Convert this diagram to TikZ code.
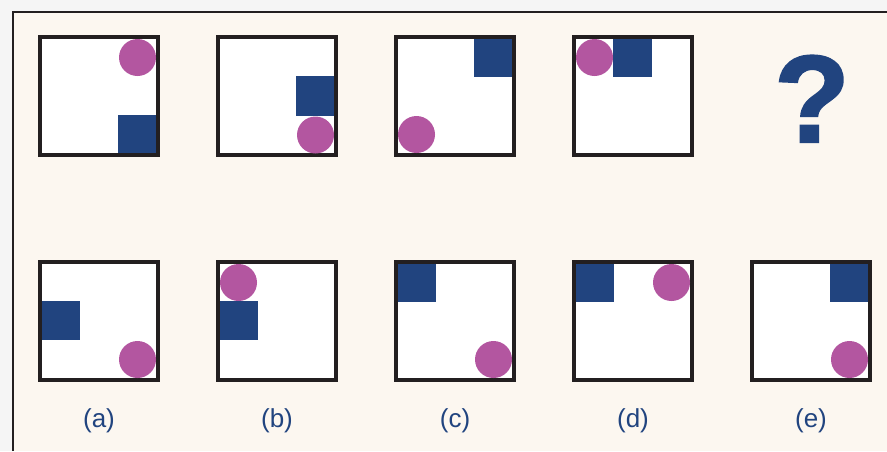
\documentclass[tikz,border=0pt]{standalone}
\usepackage{fontspec}
\setmainfont{Liberation Sans}
\newfontfamily\qfont{Liberation Sans Bold}[FakeBold=1.6]
\definecolor{navy}{HTML}{21447F}
\definecolor{plum}{HTML}{B356A0}
\definecolor{cream}{HTML}{FCF7F0}
\definecolor{ink}{HTML}{231F20}
\definecolor{outside}{HTML}{F5F5F5}
\tikzset{
  panelbox/.style={draw=ink, line width=4pt, fill=white},
  bluesq/.style={fill=navy},
  pinkdot/.style={fill=plum},
  frameline/.style={draw=ink, line width=2pt},
  caption/.style={text=navy, font=\fontsize{26}{30}\selectfont, inner sep=0pt, anchor=base},
  qmark/.style={text=navy, font=\qfont\fontsize{124}{140}\selectfont, inner sep=0pt, anchor=base}
}
\begin{document}
\begin{tikzpicture}[x=1pt,y=-1pt]
\useasboundingbox (0,0) rectangle (887,451);
\fill[outside] (0,0) rectangle (887,451);
\fill[cream] (12.5,11.5) rectangle (887,451);
\draw[frameline] (12.5,451) -- (12.5,11.5) -- (887,11.5);
% top row
\begin{scope}[shift={(38,35)}]
  \draw[panelbox] (2,2) rectangle (120,120);
  \fill[pinkdot] (99.5,22.5) circle (18.5);
  \fill[bluesq] (80,80) rectangle (118,118);
\end{scope}
\begin{scope}[shift={(216,35)}]
  \draw[panelbox] (2,2) rectangle (120,120);
  \fill[bluesq] (80,41) rectangle (118,81);
  \fill[pinkdot] (99.5,100) circle (18.5);
\end{scope}
\begin{scope}[shift={(394,35)}]
  \draw[panelbox] (2,2) rectangle (120,120);
  \fill[bluesq] (80,4) rectangle (118,42);
  \fill[pinkdot] (22.5,99.5) circle (18.5);
\end{scope}
\begin{scope}[shift={(572,35)}]
  \draw[panelbox] (2,2) rectangle (120,120);
  \fill[pinkdot] (22.5,22.5) circle (18.5);
  \fill[bluesq] (41,4) rectangle (80,42);
\end{scope}
\node[qmark] (q) at (812,142) {?};
% bottom row
\begin{scope}[shift={(38,260)}]
  \draw[panelbox] (2,2) rectangle (120,120);
  \fill[bluesq] (4,41) rectangle (42,80);
  \fill[pinkdot] (99.5,99.5) circle (18.5);
\end{scope}
\begin{scope}[shift={(216,260)}]
  \draw[panelbox] (2,2) rectangle (120,120);
  \fill[pinkdot] (22.5,22.5) circle (18.5);
  \fill[bluesq] (4,41) rectangle (42,80);
\end{scope}
\begin{scope}[shift={(394,260)}]
  \draw[panelbox] (2,2) rectangle (120,120);
  \fill[bluesq] (4,4) rectangle (42,42);
  \fill[pinkdot] (99.5,99.5) circle (18.5);
\end{scope}
\begin{scope}[shift={(572,260)}]
  \draw[panelbox] (2,2) rectangle (120,120);
  \fill[bluesq] (4,4) rectangle (42,42);
  \fill[pinkdot] (99.5,22.5) circle (18.5);
\end{scope}
\begin{scope}[shift={(750,260)}]
  \draw[panelbox] (2,2) rectangle (120,120);
  \fill[bluesq] (80,4) rectangle (118,42);
  \fill[pinkdot] (99.5,99.5) circle (18.5);
\end{scope}
% captions
\node[caption] (la) at (99,427) {(a)};
\node[caption] (lb) at (277,427) {(b)};
\node[caption] (lc) at (455,427) {(c)};
\node[caption] (ld) at (633,427) {(d)};
\node[caption] (le) at (811,427) {(e)};
\end{tikzpicture}
\end{document}
